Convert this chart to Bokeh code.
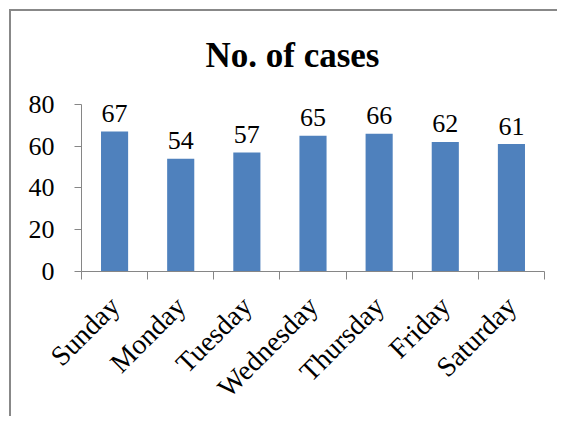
from math import pi
from bokeh.plotting import figure
from bokeh.models import FixedTicker, Range1d, ColumnDataSource
from bokeh.core.properties import value
from bokeh.embed import file_html
from bokeh.resources import INLINE

days = ["Sunday", "Monday", "Tuesday", "Wednesday", "Thursday", "Friday", "Saturday"]
cases = [67, 54, 57, 65, 66, 62, 61]
y_ticks = [0, 20, 40, 60, 80]

FONT = "Liberation Serif"
AXIS_COLOR = "#868686"
LABEL_SIZE = "26px"

xs = [i + 0.5 for i in range(len(days))]
src = ColumnDataSource(dict(x=xs, top=cases, lab=[str(c) for c in cases]))

p = figure(width=548, height=407, output_backend="svg", toolbar_location=None,
           x_range=Range1d(0, len(days)), y_range=Range1d(0, 90),
           min_border_left=70, min_border_right=15, min_border_top=72, min_border_bottom=147,
           margin=(9, 0, 0, 9),
           styles={"border-left": "2px solid #888888", "border-top": "2px solid #888888"})
p.outline_line_color = None
p.xgrid.grid_line_color = None
p.ygrid.grid_line_color = None
p.background_fill_color = "white"
p.border_fill_color = "white"

p.title.text = "No. of cases"
p.title.text_font = FONT
p.title.text_font_size = "35px"
p.title.text_font_style = "bold"
p.title.text_color = "black"
p.title.align = "left"
p.title.offset = 124
p.title.standoff = 17

p.vbar(x="x", top="top", width=0.41, source=src, fill_color="#4F81BD", line_color=None)
p.text(x="x", y="top", text="lab", source=src, text_align="center", text_baseline="alphabetic",
       y_offset=-18, text_font=value(FONT), text_font_size=LABEL_SIZE, text_color="black")

# y axis
ya = p.yaxis[0]
ya.ticker = FixedTicker(ticks=y_ticks)
ya.bounds = (0, 80)
ya.axis_line_color = AXIS_COLOR
ya.major_tick_line_color = AXIS_COLOR
ya.major_tick_out = 7
ya.major_tick_in = 0
ya.minor_tick_line_color = None
ya.major_label_standoff = 20
ya.major_label_text_font = FONT
ya.major_label_text_font_size = LABEL_SIZE
ya.major_label_text_color = "black"

# x axis
xa = p.xaxis[0]
xa.ticker = FixedTicker(ticks=xs, minor_ticks=list(range(len(days) + 1)))
xa.major_label_overrides = {x: d for x, d in zip(xs, days)}
xa.axis_line_color = AXIS_COLOR
xa.major_tick_line_color = None
xa.major_tick_out = 0
xa.major_tick_in = 0
xa.minor_tick_line_color = AXIS_COLOR
xa.minor_tick_out = 8
xa.minor_tick_in = 0
xa.major_label_orientation = pi / 4
xa.major_label_standoff = 22
xa.major_label_text_font = FONT
xa.major_label_text_font_size = "28px"
xa.major_label_text_color = "black"

open("out.html", "w").write(file_html(p, INLINE))
